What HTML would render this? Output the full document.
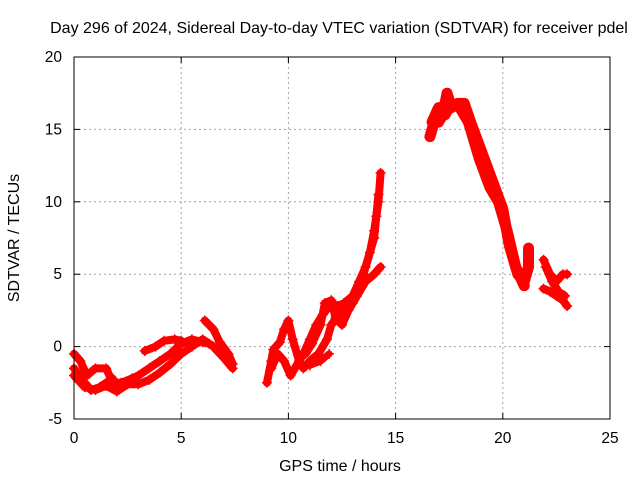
<!DOCTYPE html>
<html><head><meta charset="utf-8"><style>
body{margin:0;background:#fff}
svg{display:block;font-family:"Liberation Sans",sans-serif}
</style></head><body>
<svg id="chart" width="640" height="480" viewBox="0 0 640 480">
<rect width="640" height="480" fill="#fff"/>
<text x="339" y="33" text-anchor="middle" font-size="16">Day 296 of 2024, Sidereal Day-to-day VTEC variation (SDTVAR) for receiver pdel</text>
<text x="340" y="471" text-anchor="middle" font-size="16">GPS time / hours</text>
<text transform="translate(19,238) rotate(-90)" text-anchor="middle" font-size="16">SDTVAR / TECUs</text>
<g id="grid"></g>
<g id="series"></g>
<rect x="74" y="57" width="536" height="362" fill="none" stroke="#000" stroke-width="1"/>
<g id="ticks"></g>
</svg>
<script>
const xTicks=[0,5,10,15,20,25];
const yTicks=[-5,0,5,10,15,20];
const trackA=[[0,-2],[0.5,-2.8],[1,-3],[1.5,-2.7],[2,-3.1],[2.5,-2.6],[3,-2.6],[3.5,-2.3],[4,-1.8],[4.5,-1.2],[5,-0.5],[5.5,0],[6,0.5],[6.5,0],[7,-0.8],[7.4,-1.5]];
const trackB=[[0,-0.5],[0.3,-1],[0.6,-2],[1,-1.5],[1.5,-1.5],[1.8,-2.5],[2.2,-2.5],[2.7,-2.2],[3,-2],[3.5,-1.5],[4,-1],[4.5,-0.5],[5,0.2],[5.5,0.5],[6,0.3],[6.3,0.2]];
const trackC=[[3.3,-0.3],[3.8,0],[4.2,0.4],[4.7,0.5],[5,0.4]];
const trackD=[[6.1,1.8],[6.5,1.2],[6.8,0.3],[7.2,-0.5],[7.4,-1.2]];
const trackE=[[0,-1.5],[0.5,-2.5],[0.8,-3],[1.2,-2.8],[1.8,-2.2]];
const trackF=[[9,-2.5],[9.2,-1],[9.3,-0.2],[9.6,0.3],[9.8,1.2],[10,1.8],[10.2,0.5],[10.5,-1],[10.7,-1.5],[11,-1],[11.4,-0.5],[11.8,0.5],[12,1.5],[12.5,2.5],[13,3],[13.3,4],[13.5,5],[13.8,6.5],[14,8],[14.2,10],[14.3,12]];
const trackG=[[9.2,-1.5],[9.5,-0.5],[9.8,-1],[10.1,-2],[10.3,-1.5],[10.7,-0.5],[11,0.5],[11.3,1.5],[11.6,2.2],[12,3],[12.3,2.8],[12.6,3],[13,3.5],[13.3,4.5],[13.6,5.5],[14,7.5],[14.1,9],[14.2,10.5]];
const trackH=[[10.8,-0.5],[11.1,0.2],[11.5,1.5],[11.7,3],[12,3.2],[12.2,2],[12.5,1.5],[12.8,2.5],[13.2,3.5],[13.6,4.5],[14,5],[14.3,5.5]];
const trackI=[[10.4,-1.3],[11,-1.3],[11.5,-1],[11.9,-0.5]];
const trackJ=[[16.6,14.5],[16.8,15.5],[17,15.5],[17.2,16],[17.4,17.5],[17.6,16.5],[17.9,16.8],[18.2,16.8],[18.5,15.5],[19,13.5],[19.5,11.5],[20,9.5],[20.3,7],[20.7,5],[21,4.5],[21.2,5.5],[21.2,6.8]];
const trackK=[[16.7,15.5],[17,16.5],[17.3,16],[17.6,16.8],[18,16.5],[18.4,15.5],[18.9,13],[19.4,11],[19.8,10],[20.2,8],[20.6,5.5],[21,4.2]];
const trackL=[[21.9,6],[22.2,5],[22.5,4.5],[22.8,5],[23,5]];
const trackM=[[21.9,4],[22.2,3.8],[22.5,3.5],[22.8,3.2],[23,2.8]];
const trackN=[[22,5.5],[22.3,4.5],[22.6,3.8],[22.9,3.5]];
const tracks=[trackA,trackB,trackC,trackD,trackE,trackF,trackG,trackH,trackI,trackJ,trackK,trackL,trackM,trackN];
const widths=[8,8,8,8,8,8,8,8,7,11,11,8,8,8];

const NS="http://www.w3.org/2000/svg";
const X0=74,X1=610,Y0=419,Y1=57;
const xs=v=>X0+(v-0)/(25-0)*(X1-X0);
const ys=v=>Y0-(v+5)/(20+5)*(Y0-Y1);
function mk(t,a,p){const e=document.createElementNS(NS,t);for(const k in a)e.setAttribute(k,a[k]);p.appendChild(e);return e;}
const grid=document.getElementById('grid'),ticks=document.getElementById('ticks'),ser=document.getElementById('series');
xTicks.forEach(t=>{const x=xs(t);
 if(t>0&&t<25){const l=mk('line',{x1:x,x2:x,y1:Y1,y2:Y0,stroke:'#a0a0a0','stroke-dasharray':'2,3'},grid);}
 mk('line',{x1:x,x2:x,y1:Y0,y2:Y0-6,stroke:'#000'},ticks);mk('line',{x1:x,x2:x,y1:Y1,y2:Y1+6,stroke:'#000'},ticks);
 const tx=mk('text',{x:x,y:Y0+24,'text-anchor':'middle','font-size':'15.5'},ticks);tx.textContent=t;
 });
yTicks.forEach(t=>{const y=ys(t);
 if(t>-5&&t<20){const l=mk('line',{x1:X0,x2:X1,y1:y,y2:y,stroke:'#a0a0a0','stroke-dasharray':'2,3'},grid);}
 mk('line',{x1:X0,x2:X0+6,y1:y,y2:y,stroke:'#000'},ticks);mk('line',{x1:X1,x2:X1-6,y1:y,y2:y,stroke:'#000'},ticks);
 const tx=mk('text',{x:X0-12,y:y+5,'text-anchor':'end','font-size':'15.5'},ticks);tx.textContent=t;
 });
tracks.forEach((tr,i)=>{
 const pl=mk('polyline',{points:tr.map(p=>xs(p[0])+','+ys(p[1])).join(' '),fill:'none',stroke:'#f00','stroke-width':widths[i],'stroke-linejoin':'round','stroke-linecap':'round'},ser);
 
 tr.forEach(p=>{const x=xs(p[0]),y=ys(p[1]);
  const m=mk('path',{d:`M${x-5},${y}h10M${x},${y-5}v10`,stroke:'#f00','stroke-width':1.5},ser);
  });
});
</script>
</body></html>
